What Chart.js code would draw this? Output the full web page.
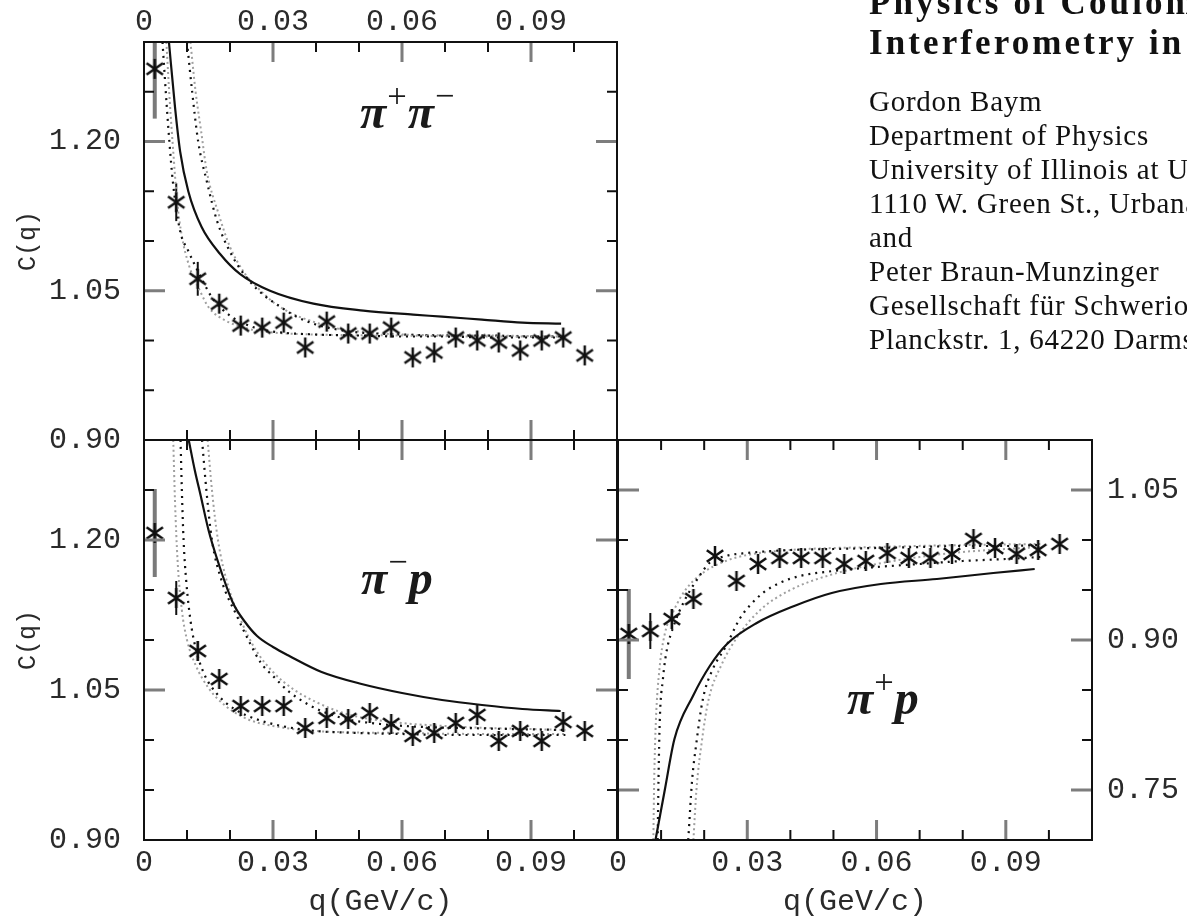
<!DOCTYPE html>
<html>
<head>
<meta charset="utf-8">
<script src="https://cdn.jsdelivr.net/npm/chart.js@4.4.0/dist/chart.umd.min.js"></script>
<style>
  body { margin: 0; background: #fff; width: 1187px; height: 917px; overflow: hidden; position: relative; }
  canvas { position: absolute; left: 0; top: 0; }
  .lbl { position: absolute; font-family: 'Liberation Serif', serif; font-style: italic; font-weight: bold; font-size: 48px; line-height: 1; color: #1a1a1a; white-space: nowrap; }
  .lbl sup { font-size: 0.72em; font-style: normal; font-weight: normal; vertical-align: 0; position: relative; top: -0.62em; margin: 0 1px; }
  .title { position: absolute; left: 869px; top: -17px; font-family: 'Liberation Serif', serif; font-weight: bold; font-size: 35px; letter-spacing: 3.1px; line-height: 40px; color: #111; white-space: nowrap; }
  .addr { position: absolute; left: 869px; top: 84px; font-family: 'Liberation Serif', serif; font-size: 29px; letter-spacing: 0.75px; line-height: 34px; color: #111; white-space: nowrap; }
</style>
</head>
<body>
<canvas id="pipPimChart" width="1187" height="917"></canvas>
<canvas id="pimPChart" width="1187" height="917"></canvas>
<canvas id="pipPChart" width="1187" height="917"></canvas>

<div class="lbl" style="left:360px;top:88px">π<sup>+</sup>π<sup>−</sup></div>
<div class="lbl" style="left:361px;top:554px">π<sup>−</sup>p</div>
<div class="lbl" style="left:847px;top:674px">π<sup>+</sup>p</div>

<div class="title">Physics of Coulomb Corrections in Hanbury-Brown Twiss<br>Interferometry in Ultrarelativistic Heavy Ion Collisions</div>
<div class="addr">Gordon Baym<br>Department of Physics<br>University of Illinois at Urbana-Champaign<br>1110 W. Green St., Urbana, IL 61801<br>and<br>Peter Braun-Munzinger<br>Gesellschaft für Schwerionenforschung<br>Planckstr. 1, 64220 Darmstadt</div>

<script>
// tick labels
const xTickValues = [0, 0.03, 0.06, 0.09];
const xTickLabels = ['0', '0.03', '0.06', '0.09'];
const yTickValuesLeft = [0.90, 1.05, 1.20];
const yTickLabelsLeft = ['0.90', '1.05', '1.20'];
const yTickValuesRight = [0.75, 0.90, 1.05];
const yTickLabelsRight = ['0.75', '0.90', '1.05'];
const xMarks = [0.01, 0.02, 0.03, 0.04, 0.05, 0.06, 0.07, 0.08, 0.09, 0.10];
const yMarksLeft = [0.95, 1.00, 1.05, 1.10, 1.15, 1.20, 1.25];
const yMarksRight = [0.75, 0.80, 0.85, 0.90, 0.95, 1.00, 1.05];

// measured points (stars)
const qPoints = [0.0025, 0.0075, 0.0125, 0.0175, 0.0225, 0.0275, 0.0325, 0.0375, 0.0425, 0.0475, 0.0525,
                 0.0575, 0.0625, 0.0675, 0.0725, 0.0775, 0.0825, 0.0875, 0.0925, 0.0975, 0.1025];
const cPipPim = [1.273, 1.139, 1.062, 1.037, 1.015, 1.013, 1.018, 0.993, 1.019, 1.007, 1.007,
                 1.013, 0.983, 0.988, 1.003, 1.000, 0.998, 0.990, 1.000, 1.003, 0.985];
const cPimP = [1.207, 1.142, 1.089, 1.061, 1.034, 1.034, 1.034, 1.012, 1.022, 1.021, 1.027,
               1.016, 1.004, 1.007, 1.017, 1.025, 0.999, 1.009, 0.999, 1.018, 1.009];
const cPipP = [0.906, 0.909, 0.921, 0.941, 0.984, 0.959, 0.976, 0.982, 0.982, 0.982, 0.976,
               0.979, 0.987, 0.982, 0.982, 0.986, 1.001, 0.992, 0.986, 0.990, 0.996];
// error bars on the first points
const errPipPim = [0.05, 0.019, 0.017];
const errPimP = [0.044, 0.017, 0.010];
const errPipP = [0.045, 0.018, 0.010];

// curves  [q, C(q)]
const pipPimSolid = [[0.0058,1.30],[0.0072,1.235],[0.0084,1.19],[0.0103,1.15],[0.0134,1.114],[0.0177,1.087],[0.0223,1.067],[0.0293,1.050],[0.0394,1.037],[0.051,1.030],[0.0626,1.026],[0.0693,1.024],[0.0786,1.021],[0.088,1.018],[0.097,1.017]];
const pipPimDotA = [[0.0043,1.30],[0.0053,1.235],[0.0059,1.20],[0.0067,1.16],[0.0084,1.11],[0.0103,1.09],[0.0125,1.07],[0.016,1.042],[0.02,1.025],[0.025,1.014],[0.03,1.009],[0.04,1.006],[0.05,1.005],[0.06,1.004],[0.07,1.004],[0.08,1.003],[0.09,1.003],[0.098,1.003]];
const pipPimDotB = [[0.0052,1.30],[0.006,1.24],[0.0068,1.19],[0.0077,1.14],[0.0088,1.105],[0.0105,1.075],[0.013,1.05],[0.0151,1.033],[0.019,1.02],[0.024,1.012],[0.03,1.008],[0.04,1.006],[0.06,1.005],[0.08,1.004],[0.098,1.004]];
const pipPimDotC = [[0.0100,1.30],[0.0112,1.25],[0.0126,1.20],[0.0146,1.16],[0.017,1.12],[0.0205,1.085],[0.0245,1.06],[0.028,1.045],[0.031,1.036],[0.035,1.025],[0.04,1.016],[0.045,1.011],[0.05,1.008],[0.06,1.006],[0.07,1.005],[0.08,1.005],[0.09,1.004],[0.098,1.004]];
const pipPimDotD = [[0.0108,1.30],[0.012,1.25],[0.0133,1.21],[0.0146,1.17],[0.0173,1.128],[0.02,1.094],[0.0235,1.067],[0.0262,1.054],[0.0305,1.037],[0.035,1.026],[0.04,1.018],[0.045,1.012],[0.05,1.009],[0.06,1.006],[0.08,1.005],[0.098,1.004]];

const pimPSolid = [[0.0104,1.30],[0.0118,1.27],[0.0132,1.244],[0.015,1.21],[0.017,1.181],[0.0207,1.137],[0.0235,1.118],[0.0263,1.104],[0.03,1.093],[0.0338,1.084],[0.0413,1.068],[0.0506,1.056],[0.06,1.047],[0.0693,1.040],[0.0786,1.035],[0.088,1.031],[0.0969,1.029]];
const pimPDotA = [[0.0085,1.30],[0.0088,1.25],[0.0092,1.20],[0.0098,1.16],[0.0108,1.12],[0.012,1.092],[0.014,1.066],[0.017,1.046],[0.021,1.031],[0.026,1.021],[0.032,1.014],[0.04,1.009],[0.05,1.007],[0.06,1.006],[0.07,1.005],[0.08,1.005],[0.09,1.005],[0.098,1.005]];
const pimPDotB = [[0.0068,1.30],[0.0072,1.24],[0.0078,1.18],[0.0088,1.13],[0.01,1.10],[0.012,1.075],[0.015,1.052],[0.019,1.034],[0.024,1.021],[0.03,1.014],[0.04,1.009],[0.06,1.007],[0.08,1.006],[0.098,1.006]];
const pimPDotC = [[0.0135,1.30],[0.0145,1.25],[0.0158,1.20],[0.018,1.16],[0.0216,1.124],[0.0245,1.098],[0.0272,1.077],[0.03,1.064],[0.0338,1.048],[0.038,1.036],[0.0413,1.029],[0.047,1.021],[0.055,1.016],[0.065,1.013],[0.075,1.012],[0.085,1.011],[0.098,1.010]];
const pimPDotD = [[0.0148,1.30],[0.0158,1.25],[0.0172,1.20],[0.0195,1.155],[0.0225,1.12],[0.026,1.09],[0.03,1.068],[0.035,1.05],[0.04,1.038],[0.045,1.029],[0.05,1.023],[0.06,1.017],[0.07,1.014],[0.08,1.012],[0.09,1.011],[0.098,1.010]];

const pipPSolid = [[0.0087,0.70],[0.0109,0.751],[0.0131,0.801],[0.0174,0.844],[0.0213,0.874],[0.0253,0.896],[0.0322,0.917],[0.0409,0.934],[0.0496,0.947],[0.061,0.956],[0.074,0.961],[0.0871,0.967],[0.0967,0.971]];
const pipPDotA = [[0.0092,0.70],[0.0094,0.76],[0.0097,0.82],[0.0104,0.86],[0.0112,0.887],[0.013,0.915],[0.0155,0.94],[0.0189,0.964],[0.0212,0.977],[0.025,0.984],[0.03,0.987],[0.04,0.99],[0.05,0.991],[0.06,0.992],[0.07,0.993],[0.08,0.994],[0.09,0.994],[0.098,0.995]];
const pipPDotB = [[0.0082,0.70],[0.0084,0.76],[0.0088,0.82],[0.0096,0.87],[0.0108,0.905],[0.013,0.93],[0.016,0.952],[0.02,0.968],[0.025,0.979],[0.03,0.985],[0.04,0.99],[0.06,0.993],[0.08,0.995],[0.098,0.996]];
const pipPDotC = [[0.0163,0.70],[0.0172,0.76],[0.0181,0.794],[0.0197,0.841],[0.022,0.871],[0.0251,0.894],[0.0282,0.921],[0.0305,0.934],[0.0336,0.947],[0.0375,0.957],[0.0422,0.964],[0.05,0.969],[0.06,0.973],[0.07,0.976],[0.08,0.979],[0.09,0.981],[0.098,0.983]];
const pipPDotD = [[0.0175,0.70],[0.0182,0.75],[0.0195,0.80],[0.021,0.84],[0.024,0.875],[0.028,0.905],[0.033,0.93],[0.04,0.95],[0.05,0.966],[0.06,0.976],[0.07,0.983],[0.08,0.988],[0.09,0.991],[0.098,0.993]];

Chart.defaults.font.family = "'Liberation Mono', monospace";
Chart.defaults.color = '#2a2a2a';

// six armed asterisk used as point style
function makeStar(size, color, lw) {
  const c = document.createElement('canvas');
  c.width = c.height = size;
  const g = c.getContext('2d');
  g.strokeStyle = color;
  g.lineWidth = lw;
  g.translate(size / 2, size / 2);
  const r = size / 2 - 1;
  [90, 35, 145].forEach(a => {
    const t = a * Math.PI / 180;
    g.beginPath();
    g.moveTo(-r * Math.cos(t), -r * Math.sin(t));
    g.lineTo(r * Math.cos(t), r * Math.sin(t));
    g.stroke();
  });
  return c;
}
const star = makeStar(22, '#111', 2.5);

const framePlugin = {
  id: 'frame',
  afterDraw(chart, args, o) {
    const {ctx, chartArea: a} = chart;
    const sx = chart.scales.x, sy = chart.scales.y;
    ctx.save();
    o.xMarks.forEach(v => {
      const p = sx.getPixelForValue(v);
      const major = o.xMajor.includes(v);
      const len = major ? 20 : 10;
      ctx.strokeStyle = major ? '#7d7d7d' : '#111';
      ctx.lineWidth = major ? 3 : 2;
      ctx.beginPath();
      ctx.moveTo(p, a.top); ctx.lineTo(p, a.top + len);
      ctx.moveTo(p, a.bottom); ctx.lineTo(p, a.bottom - len);
      ctx.stroke();
    });
    o.yMarks.forEach(v => {
      const p = sy.getPixelForValue(v);
      const major = o.yMajor.includes(v);
      const len = major ? 21 : 10;
      ctx.strokeStyle = major ? '#7d7d7d' : '#111';
      ctx.lineWidth = major ? 3 : 2;
      ctx.beginPath();
      ctx.moveTo(a.left, p); ctx.lineTo(a.left + len, p);
      ctx.moveTo(a.right, p); ctx.lineTo(a.right - len, p);
      ctx.stroke();
    });
    ctx.strokeStyle = '#111';
    ctx.lineWidth = 2;
    ctx.strokeRect(a.left, a.top, a.width, a.height);
    ctx.restore();
  }
};

const errorPlugin = {
  id: 'errbars',
  beforeDatasetsDraw(chart, args, o) {
    const {ctx, chartArea: a} = chart;
    const sx = chart.scales.x, sy = chart.scales.y;
    ctx.save();
    ctx.beginPath();
    ctx.rect(a.left, a.top, a.width, a.height);
    ctx.clip();
    o.err.forEach((e, i) => {
      const x = sx.getPixelForValue(o.q[i]);
      ctx.strokeStyle = i === 0 ? '#7a7a7a' : '#111';
      ctx.lineWidth = i === 0 ? 4 : 2;
      ctx.beginPath();
      ctx.moveTo(x, sy.getPixelForValue(o.c[i] - e));
      ctx.lineTo(x, sy.getPixelForValue(o.c[i] + e));
      ctx.stroke();
    });
    ctx.restore();
  }
};

function curve(points, kind) {
  const ds = {
    data: points.map(p => ({x: p[0], y: p[1]})),
    showLine: true,
    pointRadius: 0,
    cubicInterpolationMode: 'monotone',
    borderColor: '#111',
    borderWidth: 2.2
  };
  if (kind === 'black') { ds.borderDash = [2, 5]; ds.borderWidth = 2.2; }
  if (kind === 'gray') { ds.borderDash = [2, 3]; ds.borderColor = '#a0a0a0'; ds.borderWidth = 2; }
  return ds;
}

function panel(id, p) {
  const yTickVals = p.right ? yTickValuesRight : yTickValuesLeft;
  const yTickLbls = p.right ? yTickLabelsRight : yTickLabelsLeft;
  return new Chart(document.getElementById(id), {
    type: 'scatter',
    data: {
      datasets: [
        {
          data: qPoints.map((q, i) => ({x: q, y: p.c[i]})),
          pointStyle: star,
          pointRadius: 11
        },
        curve(p.curves[0], 'solid'),
        curve(p.curves[1], 'black'),
        curve(p.curves[2], 'gray'),
        curve(p.curves[3], 'black'),
        curve(p.curves[4], 'gray')
      ]
    },
    options: {
      responsive: false,
      animation: false,
      layout: { padding: p.pad },
      plugins: {
        legend: { display: false },
        tooltip: { enabled: false },
        frame: { xMarks: xMarks, xMajor: xTickValues, yMarks: p.right ? yMarksRight : yMarksLeft, yMajor: yTickVals },
        errbars: { q: qPoints, c: p.c, err: p.err }
      },
      scales: {
        x: {
          type: 'linear',
          position: p.xPos,
          min: 0, max: 0.11,
          grid: { display: false, drawTicks: false },
          border: { display: false },
          afterBuildTicks: s => { s.ticks = xTickValues.map(v => ({value: v})); },
          afterFit: s => { s.height = p.xHeight; },
          ticks: {
            autoSkip: false, maxRotation: 0,
            padding: p.xPos === 'top' ? 2 : 5,
            font: { size: 30 },
            callback: v => xTickLabels[xTickValues.indexOf(v)]
          },
          title: {
            display: p.xPos === 'bottom',
            text: 'q(GeV/c)',
            font: { size: 30, lineHeight: 1 },
            padding: { top: 0, bottom: 0 }
          }
        },
        y: {
          type: 'linear',
          position: p.right ? 'right' : 'left',
          min: p.yMin, max: p.yMax,
          grid: { display: false, drawTicks: false },
          border: { display: false },
          afterBuildTicks: s => { s.ticks = yTickVals.map(v => ({value: v})); },
          afterFit: s => { s.width = p.yWidth; },
          ticks: {
            padding: p.right ? 15 : 23,
            font: { size: 30 },
            callback: v => yTickLbls[yTickVals.indexOf(v)]
          },
          title: {
            display: !p.right,
            text: 'C(q)',
            font: { size: 25, lineHeight: 1.2 },
            padding: { top: 3, bottom: 0 }
          }
        }
      }
    },
    plugins: [framePlugin, errorPlugin]
  });
}

panel('pipPimChart', {
  c: cPipPim, err: errPipPim,
  curves: [pipPimSolid, pipPimDotA, pipPimDotB, pipPimDotC, pipPimDotD],
  pad: { left: 10, top: 0, right: 570, bottom: 477 },
  xPos: 'top', xHeight: 42, yWidth: 134, yMin: 0.90, yMax: 1.30, right: false
});
panel('pimPChart', {
  c: cPimP, err: errPimP,
  curves: [pimPSolid, pimPDotA, pimPDotB, pimPDotC, pimPDotD],
  pad: { left: 10, top: 440, right: 570, bottom: 0 },
  xPos: 'bottom', xHeight: 77, yWidth: 134, yMin: 0.90, yMax: 1.30, right: false
});
panel('pipPChart', {
  c: cPipP, err: errPipP,
  curves: [pipPSolid, pipPDotA, pipPDotB, pipPDotC, pipPDotD],
  pad: { left: 618, top: 440, right: 10, bottom: 0 },
  xPos: 'bottom', xHeight: 77, yWidth: 85, yMin: 0.70, yMax: 1.10, right: true
});
</script>
</body>
</html>
